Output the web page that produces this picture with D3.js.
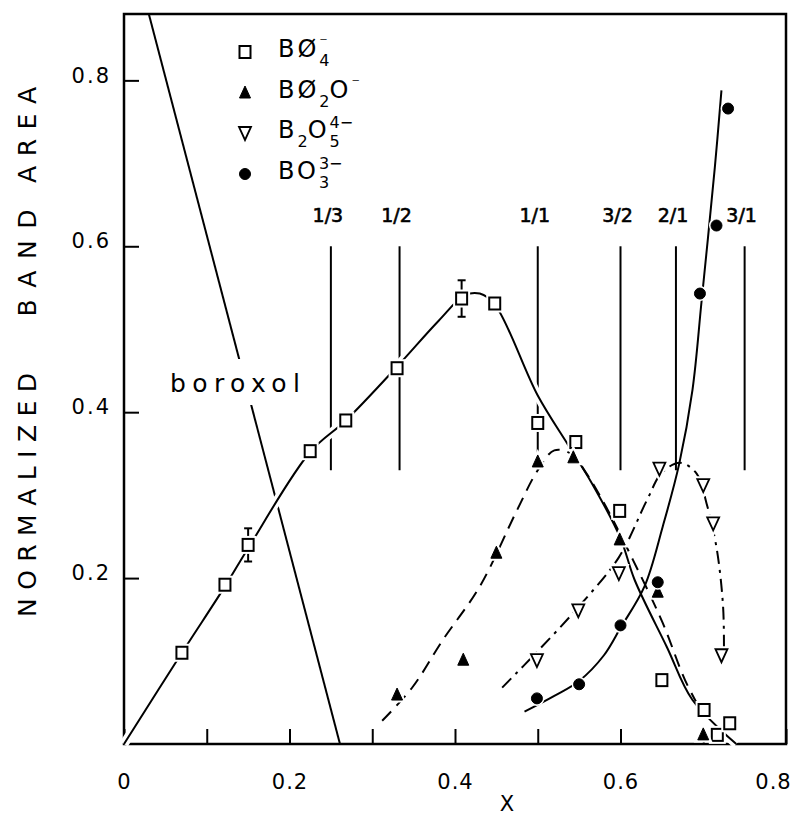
<!DOCTYPE html>
<html>
<head>
<meta charset="utf-8">
<script src="https://cdn.jsdelivr.net/npm/d3@7"></script>
<style>
body { margin: 0; background: #fff; }
text { font-family: "DejaVu Sans", sans-serif; fill: #000; }
</style>
</head>
<body>
<script>
// axis ticks
var xTicks = [0, 0.1, 0.2, 0.3, 0.4, 0.5, 0.6, 0.7, 0.8];
var xTickLabels = ["0", "", "0.2", "", "0.4", "", "0.6", "", "0.8"];
var yTicks = [0.2, 0.4, 0.6, 0.8];
var yTickLabels = ["0.2", "0.4", "0.6", "0.8"];

// BØ4- (open squares)
var bo4X = [0.07, 0.122, 0.15, 0.225, 0.268, 0.33, 0.408, 0.448, 0.5, 0.546, 0.599, 0.65, 0.701, 0.717, 0.732];
var bo4Y = [0.110, 0.192, 0.240, 0.353, 0.390, 0.453, 0.537, 0.531, 0.387, 0.364, 0.281, 0.077, 0.041, 0.011, 0.025];
var bo4Err = [[0.15, 0.240, 0.02], [0.408, 0.537, 0.022]];
var bo4Fit = [[0, 0], [0.07, 0.11], [0.122, 0.19], [0.15, 0.236], [0.225, 0.352], [0.268, 0.39], [0.33, 0.455],
              [0.38, 0.51], [0.412, 0.541], [0.43, 0.543], [0.448, 0.53], [0.5, 0.42], [0.537, 0.36],
              [0.565, 0.315], [0.6, 0.248], [0.617, 0.198], [0.656, 0.117], [0.687, 0.053], [0.74, 0]];

// BØ2O- (filled triangles)
var b2oX = [0.33, 0.41, 0.45, 0.50, 0.543, 0.599, 0.645, 0.70];
var b2oY = [0.059, 0.101, 0.23, 0.34, 0.345, 0.246, 0.183, 0.011];
var b2oFit = [[0.312, 0.028], [0.349, 0.069], [0.385, 0.125], [0.43, 0.19], [0.475, 0.282], [0.50, 0.33],
              [0.52, 0.354], [0.54, 0.35], [0.559, 0.326], [0.583, 0.285], [0.615, 0.222], [0.651, 0.146],
              [0.678, 0.077], [0.70, 0.035]];

// B2O5 4- (open inverted triangles)
var b2o5X = [0.499, 0.549, 0.598, 0.647, 0.70, 0.712, 0.722];
var b2o5Y = [0.101, 0.161, 0.206, 0.332, 0.312, 0.266, 0.107];
var b2o5Fit = [[0.457, 0.068], [0.5, 0.112], [0.549, 0.165], [0.598, 0.225], [0.632, 0.294], [0.65, 0.327],
               [0.672, 0.339], [0.692, 0.326], [0.704, 0.29], [0.716, 0.237], [0.724, 0.165], [0.725, 0.10]];

// BO3 3- (filled circles)
var bo3X = [0.499, 0.55, 0.60, 0.645, 0.696, 0.716, 0.730];
var bo3Y = [0.055, 0.072, 0.143, 0.195, 0.543, 0.625, 0.766];
var bo3Fit = [[0.484, 0.039], [0.52, 0.058], [0.55, 0.076], [0.58, 0.107], [0.60, 0.14], [0.629, 0.19],
              [0.651, 0.262], [0.671, 0.338], [0.687, 0.427], [0.698, 0.534], [0.714, 0.695], [0.722, 0.788]];

// boroxol line
var boroxol = [[0.03, 0.88], [0.261, 0]];

// composition ratio markers
var ratioX = [0.25, 0.333, 0.5, 0.6, 0.667, 0.75];
var ratioLabels = ["1/3", "1/2", "1/1", "3/2", "2/1", "3/1"];
var ratioSpan = [0.33, 0.60];

// legend
var legendLabels = [
  [["BØ", "n"], ["4", "sub"], ["⁻", "sup"]],
  [["BØ", "n"], ["2", "sub"], ["O", "n"], ["⁻", "sup"]],
  [["B", "n"], ["2", "sub"], ["O", "n"], ["5", "sub"], ["4−", "sup"]],
  [["BO", "n"], ["3", "sub"], ["3−", "sup"]]
];
var legendSymbols = ["square", "tri", "itri", "dot"];

var svg = d3.select("body")
            .append("svg")
            .attr("width", 796)
            .attr("height", 817);

var x = d3.scaleLinear().domain([0, 0.8]).range([124, 786]),
    y = d3.scaleLinear().domain([0, 0.88]).range([744, 14]);

var lineFn = d3.line()
               .x(function(d) { return x(d[0]); })
               .y(function(d) { return y(d[1]); })
               .curve(d3.curveCatmullRom.alpha(0.5));

// frame
svg.append("rect")
   .attr("x", x(0)).attr("y", y(0.88))
   .attr("width", x(0.8) - x(0)).attr("height", y(0) - y(0.88))
   .attr("fill", "none").attr("stroke", "#000").attr("stroke-width", 2.5);

var gx = svg.append("g")
   .attr("transform", "translate(0," + y(0) + ")")
   .call(d3.axisBottom(x).tickValues(xTicks).tickSize(-15).tickPadding(30)
         .tickFormat(function(d, i) { return xTickLabels[i]; }));
gx.select(".domain").remove();
gx.selectAll("line").attr("stroke-width", 2);
gx.selectAll("text").attr("font-size", 21).attr("letter-spacing", 1)
  .attr("font-family", "DejaVu Sans")
  .attr("dx", function(d) { return d == 0.8 ? -13 : 0; });

var gy = svg.append("g")
   .attr("transform", "translate(" + x(0) + ",0)")
   .call(d3.axisLeft(y).tickValues(yTicks).tickSize(-15).tickPadding(13)
         .tickFormat(function(d, i) { return yTickLabels[i]; }));
gy.select(".domain").remove();
gy.selectAll("line").attr("stroke-width", 2);
gy.selectAll("text").attr("font-size", 21).attr("letter-spacing", 2)
  .attr("dy", "0.08em").attr("font-family", "DejaVu Sans");

// axis titles
[["AREA", 135, 96], ["BAND", 263, 107], ["NORMALIZED", 495, 244]].forEach(function(w) {
  svg.append("text")
     .attr("transform", "translate(27," + w[1] + ") rotate(-90)")
     .attr("text-anchor", "middle")
     .attr("dy", "0.36em")
     .attr("font-size", 25)
     .attr("textLength", w[2])
     .attr("lengthAdjust", "spacing")
     .text(w[0]);
});
svg.append("text").attr("x", 507).attr("y", 811).attr("text-anchor", "middle")
   .attr("font-size", 21).text("X");

// boroxol
svg.append("path")
   .attr("d", d3.line().x(function(d) { return x(d[0]); }).y(function(d) { return y(d[1]); })(boroxol))
   .attr("fill", "none").attr("stroke", "#000").attr("stroke-width", 2);
svg.append("rect").attr("x", 163).attr("y", 359).attr("width", 145).attr("height", 46).attr("fill", "#fff");
svg.append("text").attr("x", 170).attr("y", 392).attr("font-size", 25)
   .attr("textLength", 130).attr("lengthAdjust", "spacing").text("boroxol");

// ratio lines
ratioX.forEach(function(r, i) {
  svg.append("line")
     .attr("x1", x(r)).attr("x2", x(r))
     .attr("y1", y(ratioSpan[0])).attr("y2", y(ratioSpan[1]))
     .attr("stroke", "#000").attr("stroke-width", 2);
  svg.append("text")
     .attr("x", x(r) - 3).attr("y", 222)
     .attr("text-anchor", "middle")
     .attr("font-size", 19)
     .attr("stroke", "#000").attr("stroke-width", 0.6)
     .text(ratioLabels[i]);
});

// BØ4- curve with white halo
svg.append("path").attr("d", lineFn(bo4Fit))
   .attr("fill", "none").attr("stroke", "#fff").attr("stroke-width", 9);
svg.append("path").attr("d", lineFn(bo4Fit))
   .attr("fill", "none").attr("stroke", "#000").attr("stroke-width", 2);

svg.append("path").attr("d", lineFn(b2oFit))
   .attr("fill", "none").attr("stroke", "#000").attr("stroke-width", 2)
   .attr("stroke-dasharray", "13,8");
svg.append("path").attr("d", lineFn(b2o5Fit))
   .attr("fill", "none").attr("stroke", "#000").attr("stroke-width", 2)
   .attr("stroke-dasharray", "13,6,3,6");
svg.append("path").attr("d", lineFn(bo3Fit))
   .attr("fill", "none").attr("stroke", "#000").attr("stroke-width", 2);

// marker drawing
function marker(g, kind, px, py) {
  var halo = g.append("g");
  var m = g.append("g");
  [halo, m].forEach(function(s, k) {
    var stroke = k == 0 ? "#fff" : "#000";
    var sw = k == 0 ? 6 : 2;
    if (kind == "square") {
      s.append("rect").attr("x", px - 5.5).attr("y", py - 6).attr("width", 11).attr("height", 12)
       .attr("fill", "#fff").attr("stroke", stroke).attr("stroke-width", sw);
    } else if (kind == "tri") {
      s.append("path").attr("d", "M" + px + "," + (py - 7) + "L" + (px + 5.5) + "," + (py + 5) + "L" + (px - 5.5) + "," + (py + 5) + "Z")
       .attr("fill", k == 0 ? "#fff" : "#000").attr("stroke", stroke).attr("stroke-width", k == 0 ? 5 : 1);
    } else if (kind == "itri") {
      s.append("path").attr("d", "M" + (px - 6) + "," + (py - 6) + "L" + (px + 6) + "," + (py - 6) + "L" + px + "," + (py + 7) + "Z")
       .attr("fill", "#fff").attr("stroke", stroke).attr("stroke-width", k == 0 ? 6 : 1.8);
    } else {
      s.append("circle").attr("cx", px).attr("cy", py).attr("r", 5.5)
       .attr("fill", k == 0 ? "#fff" : "#000").attr("stroke", stroke).attr("stroke-width", k == 0 ? 4 : 1);
    }
  });
}

var marks = svg.append("g");
bo4Err.forEach(function(e) {
  var g = marks.append("g").attr("stroke", "#000").attr("stroke-width", 2);
  g.append("line").attr("x1", x(e[0])).attr("x2", x(e[0])).attr("y1", y(e[1] - e[2])).attr("y2", y(e[1] + e[2]));
  g.append("line").attr("x1", x(e[0]) - 4).attr("x2", x(e[0]) + 4).attr("y1", y(e[1] - e[2])).attr("y2", y(e[1] - e[2]));
  g.append("line").attr("x1", x(e[0]) - 4).attr("x2", x(e[0]) + 4).attr("y1", y(e[1] + e[2])).attr("y2", y(e[1] + e[2]));
});
bo4X.forEach(function(v, i) { marker(marks, "square", x(v), y(bo4Y[i])); });
b2oX.forEach(function(v, i) { marker(marks, "tri", x(v), y(b2oY[i])); });
b2o5X.forEach(function(v, i) { marker(marks, "itri", x(v), y(b2o5Y[i])); });
bo3X.forEach(function(v, i) { marker(marks, "dot", x(v), y(bo3Y[i])); });

// legend
var legendRowY = [57, 98, 138, 179];
var legend = svg.append("g");
legendLabels.forEach(function(segs, i) {
  marker(legend, legendSymbols[i], 245, legendRowY[i] - 5);
  var cx = 278, subStart = null, prev = null;
  segs.forEach(function(s) {
    var t = legend.append("text").text(s[0]);
    if (s[1] == "n") {
      t.attr("font-size", 24).attr("letter-spacing", 3).attr("x", cx).attr("y", legendRowY[i]);
      cx += t.node().getComputedTextLength();
    } else if (s[1] == "sub") {
      t.attr("font-size", 16).attr("x", cx).attr("y", legendRowY[i] + 9);
      subStart = cx;
      cx += t.node().getComputedTextLength();
    } else {
      var sx = (prev == "sub") ? subStart : cx;
      t.attr("font-size", 16).attr("x", sx).attr("y", legendRowY[i] - 10);
    }
    prev = s[1];
  });
});
</script>
</body>
</html>
